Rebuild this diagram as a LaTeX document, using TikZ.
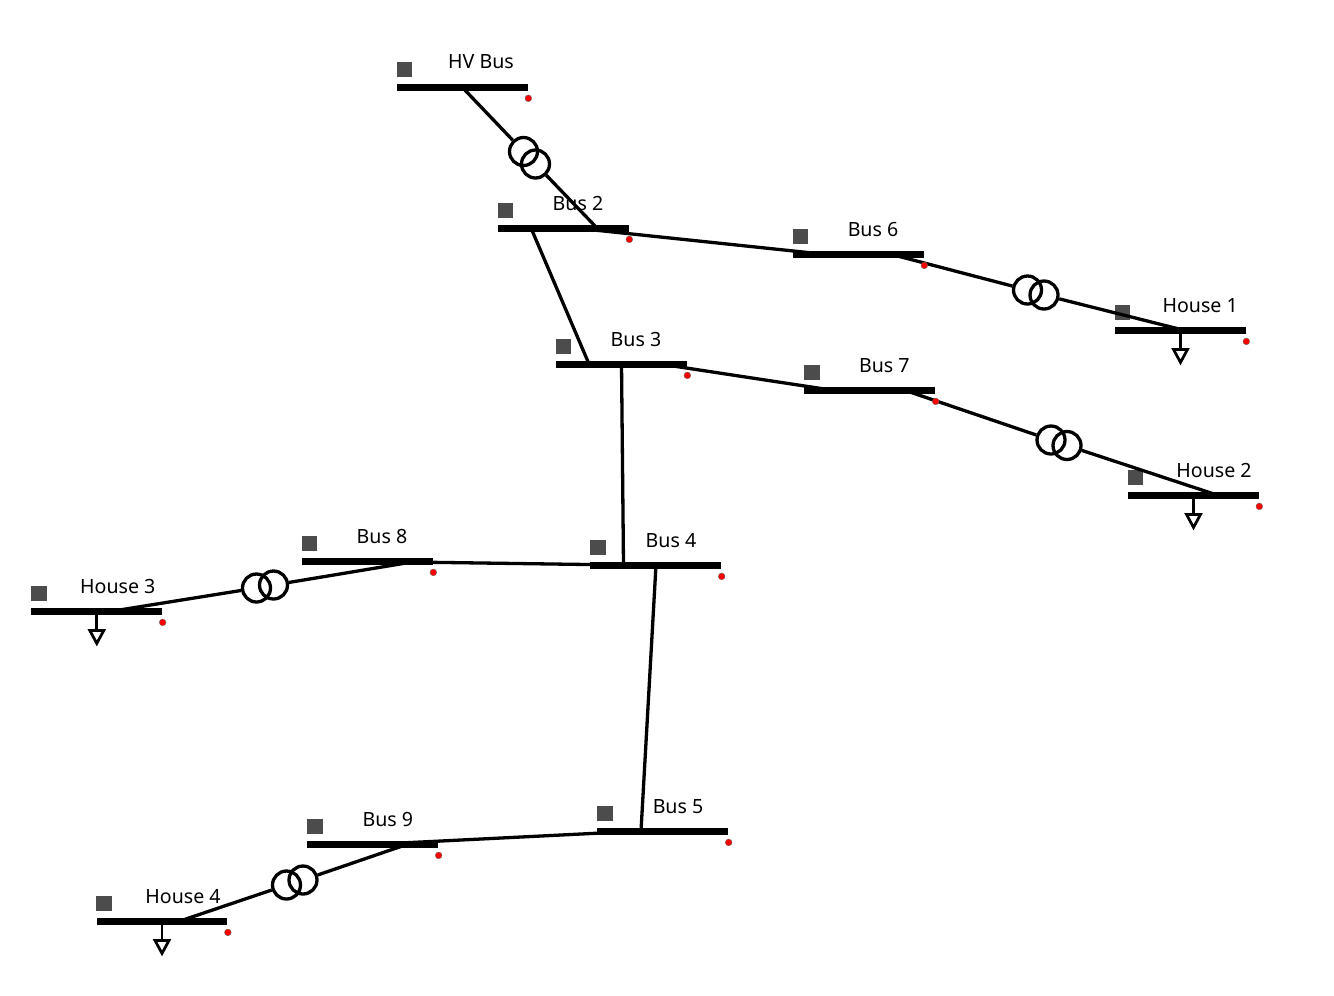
\documentclass[tikz,border=0pt]{standalone}
\usepackage{fontspec}
\setmainfont{Noto Sans}
\usetikzlibrary{positioning}

\tikzset{
	busbar/.style={fill=black, inner sep=0pt, minimum width=2.62cm, minimum height=0.15cm},
	busmark/.style={fill=black!70, inner sep=0pt, minimum size=0.31cm},
	busdot/.style={circle, fill=red, draw=black!60, line width=0.2pt, inner sep=0pt, minimum size=0.135cm},
	buslabel/.style={inner sep=0pt, font=\fontsize{11.15}{13}\selectfont},
	trafo/.style={circle, draw=black, line width=0.066cm, inner sep=0pt, minimum size=0.56cm},
	feeder/.style={draw=black, line width=0.066cm},
	loadtip/.style={draw=black, fill=white, line width=0.055cm, line join=miter}
}

\begin{document}
\begin{tikzpicture}[x=0.02cm, y=-0.02cm]
	\useasboundingbox (0,0) rectangle (1334,995);

	% Sammelschienen
	\foreach \name/\xbus/\ybus/\xtext/\ytext/\txt in {
		hv/397/87.3/84/-25.3/HV Bus,
		bus2/498/228.4/80/-24.9/Bus 2,
		bus3/556/364.4/80/-24.9/Bus 3,
		bus4/590.3/565.4/80.7/-24.9/Bus 4,
		bus5/597.3/831.4/80.7/-24.9/Bus 5,
		bus6/793/254.4/80/-24.9/Bus 6,
		bus7/804.3/390.4/80/-24.9/Bus 7,
		bus8/302/561.4/80/-24.9/Bus 8,
		bus9/307.3/844.4/80.5/-24.9/Bus 9,
		house1/1115/330.4/85.2/-24.9/House 1,
		house2/1128/495.4/86/-24.9/House 2,
		house3/31.3/611.4/86.5/-24.9/House 3,
		house4/96.5/921.4/86.5/-24.9/House 4} {
		\node[busbar] (\name) at (\xbus+65.5,\ybus) {};
		\node[busmark] (\name mark) at (\xbus+7.5,\ybus-18) {};
		\node[buslabel] (\name text) at (\xbus+\xtext,\ybus+\ytext) {\txt};
	}

	% Transformatoren
	\node[trafo] (t1a) at (523.5,151.5) {};
	\node[trafo] (t1b) at (535.5,164) {};
	\node[trafo] (t2a) at (1027.5,290) {};
	\node[trafo] (t2b) at (1044,295) {};
	\node[trafo] (t3a) at (1051,440) {};
	\node[trafo] (t3b) at (1067,445.5) {};
	\node[trafo] (t4a) at (256.5,588) {};
	\node[trafo] (t4b) at (273.5,585) {};
	\node[trafo] (t5a) at (286.5,885) {};
	\node[trafo] (t5b) at (303,880) {};

	% Anschlusspunkte
	\coordinate (hvout) at (462,87);
	\coordinate (bus2in) at (597,228);
	\coordinate (bus2out) at (575,228);
	\coordinate (bus2down) at (531,228);
	\coordinate (bus3in) at (589,364);
	\coordinate (bus3down) at (621.5,364);
	\coordinate (bus3out) at (660,364);
	\coordinate (bus4in) at (623.5,565);
	\coordinate (bus4down) at (656,565);
	\coordinate (bus5in) at (641,831);
	\coordinate (bus6in) at (822,254);
	\coordinate (bus6out) at (890,254);
	\coordinate (bus7in) at (831,390);
	\coordinate (bus7out) at (904,390);
	\coordinate (bus8out) at (418,561);
	\coordinate (bus9out) at (408,844);
	\coordinate (house1in) at (1183,330);
	\coordinate (house2in) at (1217,495);
	\coordinate (house3in) at (113,611);
	\coordinate (house4in) at (180,921);

	% Leitungen
	\draw[feeder] (hvout) -- (t1a);
	\draw[feeder] (t1b) -- (bus2in);
	\draw[feeder] (bus2out) -- (bus6in);
	\draw[feeder] (bus2down) -- (bus3in);
	\draw[feeder] (bus3down) -- (bus4in);
	\draw[feeder] (bus3out) -- (bus7in);
	\draw[feeder] (bus4down) -- (bus5in);
	\draw[feeder] (bus8.center) -- (bus4in);
	\draw[feeder] (bus9.center) -- (bus5in);
	\draw[feeder] (bus6out) -- (t2a);
	\draw[feeder] (t2b) -- (house1in);
	\draw[feeder] (bus7out) -- (t3a);
	\draw[feeder] (t3b) -- (house2in);
	\draw[feeder] (bus8out) -- (t4b);
	\draw[feeder] (t4a) -- (house3in);
	\draw[feeder] (bus9out) -- (t5b);
	\draw[feeder] (t5a) -- (house4in);

	% Lasten
	\foreach \name in {house1,house2,house3,house4} {
		\coordinate[below=0.38cm of \name.center] (\name load);
		\draw[feeder, line width=0.055cm] (\name.center) -- (\name load);
		\draw[loadtip] (\name load) ++(-7,0) -- ++(14,0) -- ++(-7,13) -- cycle;
	}

	% Punkte
	\foreach \name in {hv,bus2,bus3,bus4,bus5,bus6,bus7,bus8,bus9,house1,house2,house3,house4} {
		\node[busdot, yshift=-0.22cm] (\name dot) at (\name.east) {};
	}
\end{tikzpicture}
\end{document}
